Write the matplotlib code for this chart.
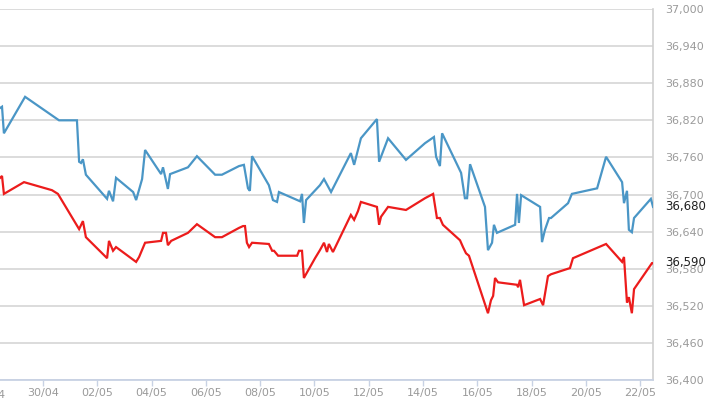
import matplotlib
matplotlib.use("Agg")
import matplotlib.pyplot as plt
import matplotlib.transforms as mtransforms
from matplotlib.ticker import FuncFormatter

# x = days since 30/04, y = index value
blue_days = [-1.58, -1.51, -1.44, -0.66, 0.59, 1.25, 1.33, 1.40, 1.47, 1.58,
             2.36, 2.43, 2.58, 2.69, 3.32, 3.43, 3.65, 3.76, 4.35, 4.42,
             4.60, 4.68, 5.34, 5.67, 6.34, 6.59, 7.22, 7.40, 7.55, 7.62,
             7.70, 8.32, 8.47, 8.62, 8.69, 9.47, 9.54, 9.61, 9.69, 10.20,
             10.35, 10.61, 11.34, 11.46, 11.71, 12.30, 12.38, 12.71, 13.37, 14.07,
             14.40, 14.48, 14.62, 14.70, 15.40, 15.54, 15.62, 15.73, 16.28, 16.39,
             16.54, 16.61, 16.72, 17.39, 17.46, 17.53, 17.61, 18.31, 18.38, 18.49,
             18.64, 18.71, 19.34, 19.48, 20.41, 20.74, 21.33, 21.40, 21.51, 21.58,
             21.69, 21.77, 22.39, 22.47]
blue_vals = [36840, 36842, 36799, 36858, 36820, 36820, 36753, 36751, 36757, 36732,
             36693, 36706, 36689, 36727, 36704, 36691, 36725, 36772, 36733, 36744,
             36709, 36733, 36744, 36762, 36732, 36732, 36746, 36748, 36710, 36706,
             36762, 36715, 36691, 36688, 36704, 36689, 36701, 36654, 36691, 36715,
             36725, 36704, 36767, 36748, 36791, 36822, 36753, 36791, 36756, 36783,
             36793, 36761, 36746, 36799, 36735, 36694, 36694, 36749, 36680, 36610,
             36622, 36651, 36638, 36651, 36701, 36654, 36699, 36680, 36623, 36643,
             36662, 36662, 36686, 36701, 36710, 36761, 36720, 36686, 36706, 36643,
             36639, 36662, 36693, 36680]

red_days = [-1.58, -1.51, -1.44, -0.70, 0.33, 0.55, 1.33, 1.47, 1.58, 2.36,
            2.43, 2.58, 2.69, 3.43, 3.54, 3.76, 4.35, 4.42, 4.53, 4.60,
            4.72, 5.34, 5.67, 6.34, 6.59, 7.22, 7.37, 7.44, 7.51, 7.59,
            7.70, 8.32, 8.44, 8.51, 8.66, 9.36, 9.43, 9.54, 9.61, 10.02,
            10.20, 10.35, 10.46, 10.53, 10.68, 11.34, 11.46, 11.60, 11.71, 12.30,
            12.38, 12.45, 12.71, 13.37, 14.07, 14.37, 14.51, 14.62, 14.73, 15.36,
            15.47, 15.58, 15.69, 16.39, 16.50, 16.58, 16.65, 16.76, 17.46, 17.50,
            17.57, 17.72, 18.31, 18.42, 18.60, 18.71, 19.41, 19.52, 20.74, 21.33,
            21.40, 21.51, 21.58, 21.69, 21.77, 22.43, 22.47]
red_vals = [36727, 36730, 36701, 36720, 36707, 36701, 36644, 36657, 36631, 36597,
            36625, 36609, 36615, 36591, 36599, 36622, 36625, 36638, 36638, 36618,
            36625, 36638, 36652, 36631, 36631, 36646, 36649, 36649, 36622, 36615,
            36622, 36620, 36609, 36609, 36601, 36601, 36609, 36609, 36565, 36597,
            36610, 36622, 36607, 36620, 36607, 36667, 36659, 36673, 36688, 36680,
            36651, 36664, 36680, 36675, 36694, 36701, 36662, 36662, 36651, 36626,
            36615, 36605, 36601, 36508, 36529, 36536, 36565, 36558, 36554, 36550,
            36562, 36521, 36531, 36521, 36568, 36571, 36581, 36597, 36620, 36591,
            36599, 36525, 36534, 36508, 36547, 36589, 36589]

tick_days = [0, 2, 4, 6, 8, 10, 12, 14, 16, 18, 20, 22]
tick_labels = ["30/04", "02/05", "04/05", "06/05", "08/05", "10/05",
               "12/05", "14/05", "16/05", "18/05", "20/05", "22/05"]
y_ticks = [36400, 36460, 36520, 36580, 36640, 36700, 36760, 36820, 36880, 36940, 37000]
last_blue = 36680
last_red = 36590

fig = plt.figure(figsize=(7.1, 3.99), dpi=100)
ax = fig.add_axes([0, 0.0476, 0.9197, 0.9298])

ax.plot(blue_days, blue_vals, color="#4a96c6", lw=1.6, solid_joinstyle="miter", zorder=3)
ax.plot(red_days, red_vals, color="#ec1c1c", lw=1.6, solid_joinstyle="miter", zorder=3)

ax.set_xlim(-1.584, 22.468)
ax.set_ylim(36400, 37000)

# y axis on the right, comma thousands
ax.set_yticks(y_ticks)
ax.yaxis.tick_right()
ax.yaxis.set_major_formatter(FuncFormatter(lambda v, p: f"{int(v):,}"))
ax.tick_params(axis="y", length=0, pad=9, labelsize=8, labelcolor="#9a9a9a")
ax.grid(axis="y", color="#d9d9d9", lw=1.3)
ax.set_axisbelow(True)

ax.set_xticks(tick_days)
ax.set_xticklabels(tick_labels)
ax.tick_params(axis="x", direction="out", length=4, width=1, color="#c8d2e4",
               pad=2, labelsize=8, labelcolor="#9a9a9a")

# 28/04 label sits just off the left edge, only its last digit shows
xfm = mtransforms.blended_transform_factory(ax.transData, ax.transAxes)
ax.text(-2, -0.028, "28/04", transform=xfm, ha="center", va="top",
        fontsize=8, color="#9a9a9a", clip_on=False)

for side in ["top", "left"]:
    ax.spines[side].set_visible(False)
ax.spines["right"].set_color("#cfcfcf")
ax.spines["right"].set_linewidth(1.2)
ax.spines["bottom"].set_color("#c8d2e4")
ax.spines["bottom"].set_linewidth(1.3)

# last value labels
yfm = mtransforms.blended_transform_factory(ax.transAxes, ax.transData)
lab_x = 1.0 + 12 / 653
ax.text(lab_x, last_blue, f"{last_blue:,}", transform=yfm, ha="left", va="center",
        fontsize=8.5, color="#222222", clip_on=False)
ax.text(lab_x, last_red, f"{last_red:,}", transform=yfm, ha="left", va="center",
        fontsize=8.5, color="#222222", clip_on=False)

fig.savefig("out.png", dpi=100)
